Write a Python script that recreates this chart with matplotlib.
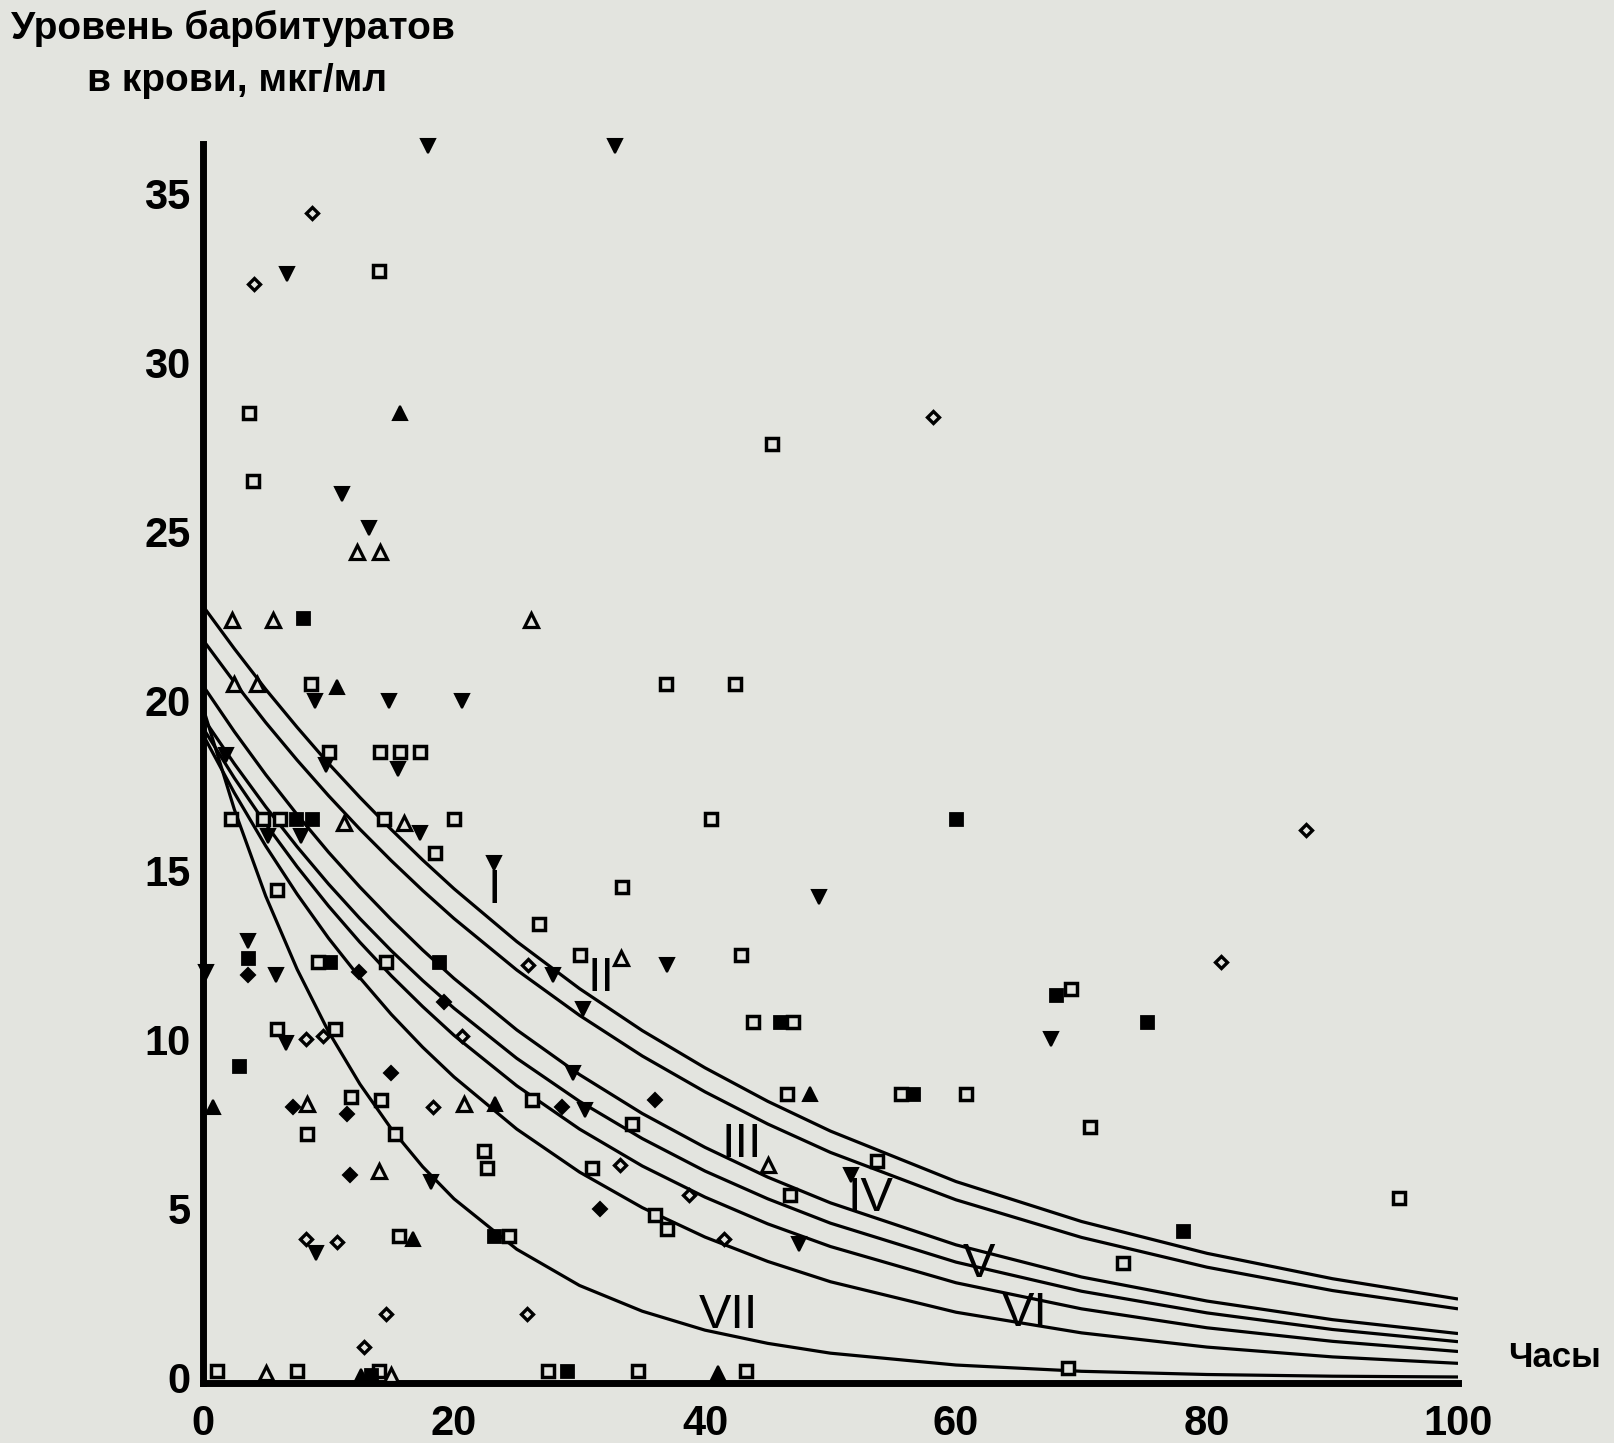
import matplotlib
matplotlib.use("Agg")
import matplotlib.pyplot as plt
from matplotlib import font_manager

# ---------------- data ----------------
curve_x = [0, 2.5, 5, 7.5, 10, 12.5, 15, 17.5, 20, 25, 30, 35, 40, 45, 50, 60, 70, 80, 90, 100]
curve_I = [22.8, 21.54, 20.34, 19.22, 18.15, 17.15, 16.20, 15.30, 14.45, 12.89, 11.50, 10.26, 9.16, 8.17, 7.29, 5.80, 4.62, 3.68, 2.93, 2.33]
curve_II = [21.8, 20.55, 19.36, 18.25, 17.20, 16.21, 15.28, 14.40, 13.57, 12.05, 10.71, 9.51, 8.45, 7.50, 6.66, 5.26, 4.15, 3.27, 2.58, 2.04]
curve_III = [20.45, 19.09, 17.82, 16.64, 15.53, 14.50, 13.54, 12.64, 11.80, 10.28, 8.96, 7.81, 6.81, 5.93, 5.17, 3.93, 2.98, 2.27, 1.72, 1.31]
curve_IV = [19.5, 18.14, 16.87, 15.69, 14.59, 13.57, 12.62, 11.74, 10.92, 9.44, 8.17, 7.07, 6.11, 5.29, 4.57, 3.42, 2.56, 1.92, 1.43, 1.07]
curve_V = [19.2, 17.72, 16.36, 15.10, 13.94, 12.87, 11.88, 10.97, 10.12, 8.63, 7.35, 6.26, 5.34, 4.55, 3.88, 2.81, 2.04, 1.48, 1.08, 0.78]
curve_VI = [19.0, 17.28, 15.71, 14.29, 12.99, 11.82, 10.74, 9.77, 8.89, 7.35, 6.08, 5.03, 4.16, 3.44, 2.84, 1.94, 1.33, 0.91, 0.62, 0.43]
curve_VII = [19.8, 16.79, 14.23, 12.07, 10.23, 8.68, 7.36, 6.24, 5.29, 3.80, 2.73, 1.97, 1.41, 1.02, 0.73, 0.38, 0.195, 0.10, 0.05, 0.027]

curve_names = ["I", "II", "III", "IV", "V", "VI", "VII"]
label_x = [23.2, 31.7, 42.9, 53.2, 61.8, 65.5, 41.9]
label_y = [14.4, 11.8, 6.9, 5.3, 3.35, 1.9, 1.85]

open_sq_x = [3.7, 4.0, 14.0, 45.3, 8.6, 36.9, 42.4, 10.0, 14.1, 15.7, 17.3, 2.2, 4.8, 6.1, 14.4, 20.0, 18.5, 40.5,
             5.9, 33.4, 26.8, 9.2, 14.6, 30.0, 42.9, 69.2, 5.9, 10.5, 43.8, 47.0, 11.8, 14.2, 26.25, 46.5, 55.6,
             60.8, 70.7, 8.3, 15.3, 22.4, 22.6, 31.0, 34.2, 53.7, 46.8, 36.0, 37.0, 15.6, 24.4, 73.3, 95.3,
             1.1, 7.5, 14.0, 27.5, 34.7, 43.3, 68.9]
open_sq_y = [28.5, 26.5, 32.7, 27.6, 20.5, 20.5, 20.5, 18.5, 18.5, 18.5, 18.5, 16.5, 16.5, 16.5, 16.5, 16.5, 15.5, 16.5,
             14.4, 14.5, 13.4, 12.3, 12.3, 12.5, 12.5, 11.5, 10.3, 10.3, 10.5, 10.5, 8.3, 8.2, 8.2, 8.4, 8.4,
             8.4, 7.4, 7.2, 7.2, 6.7, 6.2, 6.2, 7.5, 6.4, 5.4, 4.8, 4.4, 4.2, 4.2, 3.4, 5.3,
             0.2, 0.2, 0.2, 0.2, 0.2, 0.2, 0.3]

filled_sq_x = [8.0, 7.4, 8.7, 60.0, 3.6, 10.1, 18.8, 68.0, 2.9, 46.0, 75.2, 56.6, 23.2, 78.1, 13.4, 29.0]
filled_sq_y = [22.45, 16.5, 16.5, 16.5, 12.4, 12.3, 12.3, 11.3, 9.2, 10.5, 10.5, 8.4, 4.2, 4.35, 0.1, 0.2]

open_dia_x = [8.7, 4.1, 58.2, 87.9, 25.9, 81.1, 8.2, 9.6, 20.6, 18.3, 33.2, 38.7, 41.5, 8.2, 10.7, 14.6, 25.8, 12.8]
open_dia_y = [34.4, 32.3, 28.4, 16.2, 12.2, 12.3, 10.0, 10.1, 10.1, 8.0, 6.3, 5.4, 4.1, 4.1, 4.0, 1.9, 1.9, 0.9]

filled_dia_x = [3.6, 12.4, 19.2, 15.0, 7.2, 11.5, 28.6, 36.0, 11.7, 31.6]
filled_dia_y = [11.9, 12.0, 11.1, 9.0, 8.0, 7.8, 8.0, 8.2, 6.0, 5.0]

open_tri_x = [12.3, 14.1, 2.3, 5.6, 26.1, 2.5, 4.3, 11.2, 16.0, 33.3, 8.3, 20.8, 14.0, 45.0, 5.0, 15.0]
open_tri_y = [24.4, 24.4, 22.4, 22.4, 22.4, 20.5, 20.5, 16.4, 16.4, 12.4, 8.1, 8.1, 6.1, 6.3, 0.15, 0.1]

filled_tri_x = [15.7, 10.7, 0.8, 23.3, 48.4, 16.7, 12.6, 41.0]
filled_tri_y = [28.5, 20.4, 8.0, 8.1, 8.4, 4.1, 0.05, 0.15]

down_tri_x = [17.9, 32.8, 6.7, 11.05, 13.2, 8.9, 14.8, 20.6, 9.8, 15.5, 1.8, 5.2, 7.8, 17.3, 23.2, 49.1, 0.2,
              3.6, 5.8, 27.9, 37.0, 30.3, 6.6, 67.6, 29.5, 30.4, 18.2, 51.6, 47.5, 9.0]
down_tri_y = [36.4, 36.4, 32.6, 26.1, 25.1, 20.0, 20.0, 20.0, 18.1, 18.0, 18.4, 16.0, 16.0, 16.1, 15.2, 14.2, 12.0,
              12.9, 11.9, 11.9, 12.2, 10.9, 9.9, 10.0, 9.0, 7.9, 5.8, 6.0, 3.95, 3.7]

x_ticks = [0, 20, 40, 60, 80, 100]
y_ticks = [0, 5, 10, 15, 20, 25, 30, 35]
y_title_lines = ["Уровень барбитуратов", "в крови, мкг/мл"]
x_title = "Часы"

# ---------------- drawing ----------------
BG = "#e3e4df"
FONT = ["Liberation Sans", "DejaVu Sans"]
installed = {f.name for f in font_manager.fontManager.ttflist}
NARROW = ["Liberation Sans Narrow", "Liberation Sans", "DejaVu Sans"] if "Liberation Sans Narrow" in installed else FONT
plt.rcParams["font.family"] = FONT

fig = plt.figure(figsize=(16.15, 14.43), dpi=100, facecolor=BG)
ax = fig.add_axes([0.1257, 0.0416, 0.7771, 0.8586], facecolor=BG)

curves = [curve_I, curve_II, curve_III, curve_IV, curve_V, curve_VI, curve_VII]
for cy in curves:
    ax.plot(curve_x, cy, color="black", lw=2.3, zorder=2, solid_capstyle="butt")

mk = dict(linestyle="none", markeredgecolor="black", clip_on=False, zorder=3)
ax.plot(open_sq_x, open_sq_y, marker="s", ms=9, mew=2.5, markerfacecolor=BG, **mk)
ax.plot(filled_sq_x, filled_sq_y, marker="s", ms=9, mew=2.0, markerfacecolor="black", **mk)
ax.plot(open_dia_x, open_dia_y, marker="D", ms=6.5, mew=2.4, markerfacecolor=BG, **mk)
ax.plot(filled_dia_x, filled_dia_y, marker="D", ms=7, mew=1.5, markerfacecolor="black", **mk)
ax.plot(open_tri_x, open_tri_y, marker="^", ms=10.5, mew=2.3, markerfacecolor=BG, **mk)
ax.plot(filled_tri_x, filled_tri_y, marker="^", ms=10.5, mew=1.5, markerfacecolor="black", **mk)
ax.plot(down_tri_x, down_tri_y, marker="v", ms=10.5, mew=1.5, markerfacecolor="black", **mk)

for name, lx, ly in zip(curve_names, label_x, label_y):
    ax.text(lx, ly, name, fontsize=35, ha="center", va="center", color="black",
            zorder=4, family=FONT)

ax.set_xlim(0, 100)
ax.set_ylim(-0.15, 36.45)
ax.set_xticks(x_ticks)
ax.set_yticks(y_ticks)
ax.tick_params(axis="both", length=0, labelsize=30, colors="black")
ax.tick_params(axis="y", pad=9)
ax.tick_params(axis="x", pad=15)
for lab in ax.get_xticklabels() + ax.get_yticklabels():
    lab.set_fontweight("bold")

for side in ["top", "right"]:
    ax.spines[side].set_visible(False)
for side in ["left", "bottom"]:
    ax.spines[side].set_linewidth(5)
    ax.spines[side].set_color("black")

ax.text(104.0, 0.6, x_title, fontsize=25, fontweight="bold", ha="left", va="center",
        clip_on=False, family=NARROW)
fig.text(0.1445, 0.980, y_title_lines[0], fontsize=28, fontweight="bold", ha="center", va="center")
fig.text(0.1465, 0.944, y_title_lines[1], fontsize=28, fontweight="bold", ha="center", va="center")

fig.savefig("out.png", dpi=100, facecolor=BG)
